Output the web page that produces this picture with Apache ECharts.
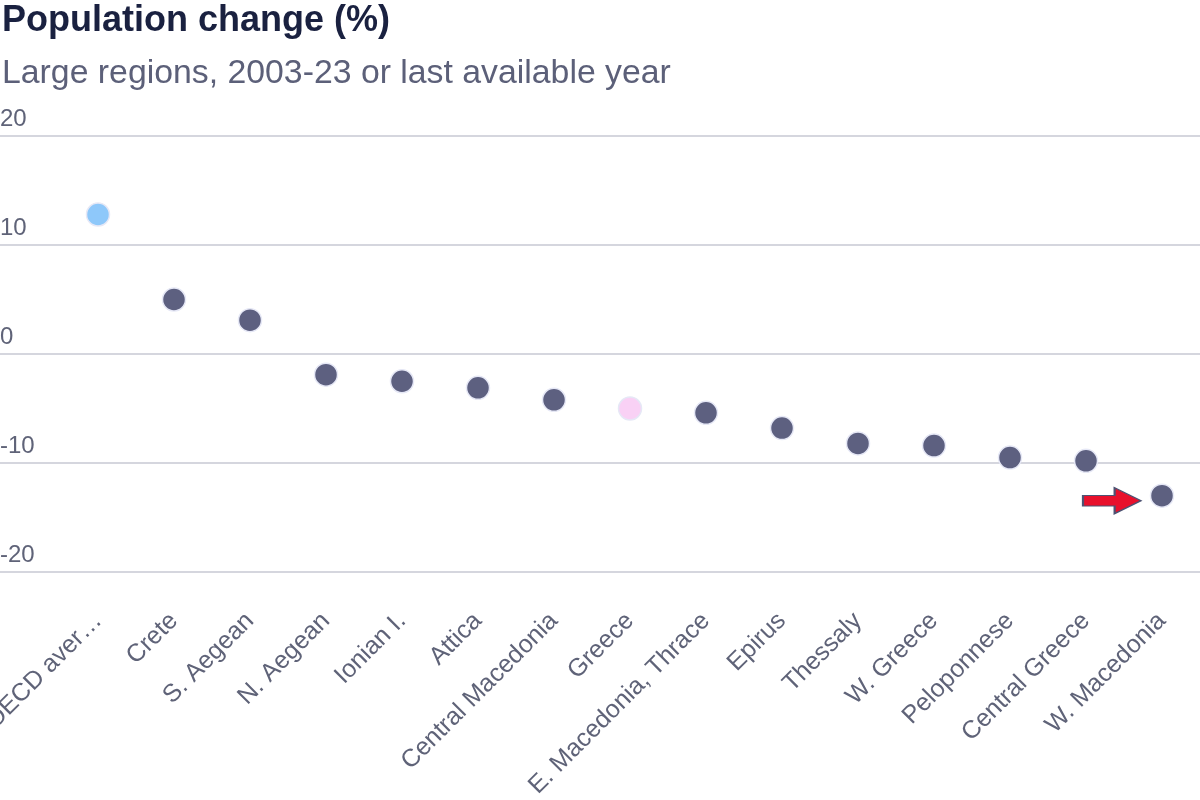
<!DOCTYPE html>
<html>
<head>
<meta charset="utf-8">
<script src="https://cdn.jsdelivr.net/npm/echarts@6/dist/echarts.min.js"></script>
<style>html,body{margin:0;padding:0;background:#fff}#c{width:1200px;height:800px}</style>
</head>
<body>
<div id="c"></div>
<script>
const categories = ["OECD aver\u2026","Crete","S. Aegean","N. Aegean","Ionian I.","Attica","Central Macedonia","Greece","E. Macedonia, Thrace","Epirus","Thessaly","W. Greece","Peloponnese","Central Greece","W. Macedonia"];
const values = [12.8, 5.0, 3.1, -1.9, -2.5, -3.1, -4.2, -5.0, -5.4, -6.8, -8.2, -8.4, -9.5, -9.8, -13.0];
const yTicks = [-20, -10, 0, 10, 20];
const highlightColors = {"OECD aver\u2026": "#8ec8fa", "Greece": "#f9d1f5"};
const arrowTarget = "W. Macedonia";

const FONT = "'Liberation Sans', Arial, sans-serif";
const baseColor = "#5d6080";

const data = categories.map((c, i) => ({
  value: values[i],
  itemStyle: { color: highlightColors[c] || baseColor }
}));
const arrowIdx = categories.indexOf(arrowTarget);

const chart = echarts.init(document.getElementById('c'), null, {renderer: 'canvas'});
chart.setOption({
  animation: false,
  textStyle: { fontFamily: FONT },
  title: [
    { text: "Population change (%)", left: -3, top: -2,
      textStyle: { fontFamily: FONT, fontSize: 36, fontWeight: 'bold', color: '#1a2140' } },
    { text: "Large regions, 2003-23 or last available year", left: -3, top: 52,
      textStyle: { fontFamily: FONT, fontSize: 33.8, fontWeight: 'normal', color: '#5c6079' } }
  ],
  grid: [
    { left: 0, right: 0, top: 136, bottom: 228, containLabel: false, outerBoundsMode: 'none' },
    { left: 60, right: 0, top: 136, bottom: 228, containLabel: false, outerBoundsMode: 'none' }
  ],
  xAxis: [
    { type: 'category', gridIndex: 0, data: [''], show: false },
    { type: 'category', gridIndex: 1, data: categories, boundaryGap: true,
      axisLine: { show: false }, axisTick: { show: false },
      axisLabel: { interval: 0, rotate: 45, margin: 45, fontSize: 25, color: '#5f6378', fontFamily: FONT, hideOverlap: false } }
  ],
  yAxis: [
    { type: 'value', gridIndex: 0, min: yTicks[0], max: yTicks[yTicks.length-1], interval: 10,
      axisLine: { show: false }, axisTick: { show: false },
      splitLine: { lineStyle: { color: '#c7c9d3', width: 1.5 } },
      axisLabel: { inside: true, margin: 0, align: 'left', verticalAlign: 'bottom',
        padding: [0, 0, 5, 0], fontSize: 24, color: '#5f6378', fontFamily: FONT } },
    { type: 'value', gridIndex: 1, min: yTicks[0], max: yTicks[yTicks.length-1], interval: 10, show: false,
      splitLine: { show: false } }
  ],
  series: [
    { type: 'scatter', xAxisIndex: 1, yAxisIndex: 1, symbolSize: 23,
      itemStyle: { borderColor: '#e6e8f6', borderWidth: 1.5, opacity: 1 },
      data: data,
      markPoint: {
        symbol: 'path://M0,3 L6,3 L6,0 L11,5 L6,10 L6,7 L0,7 Z',
        symbolSize: [58, 26],
        symbolKeepAspect: false,
        symbolOffset: [-50, 5],
        itemStyle: { color: '#e8102c', borderColor: '#4d5373', borderWidth: 1.5 },
        label: { show: false },
        data: [ { coord: [categories[arrowIdx], values[arrowIdx]] } ]
      }
    }
  ]
});
</script>
</body>
</html>
